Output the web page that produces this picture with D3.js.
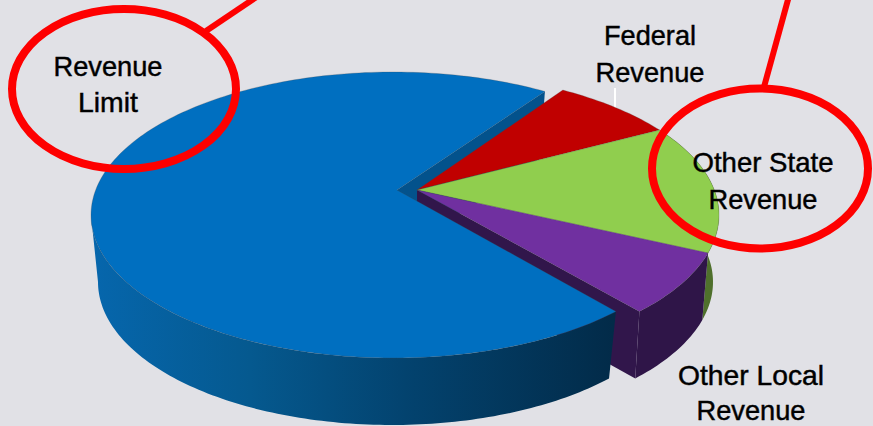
<!DOCTYPE html>
<html><head><meta charset="utf-8"><style>html,body{margin:0;padding:0;background:#e1e1e6;overflow:hidden}svg{display:block}text{font-family:"Liberation Sans",Arial,sans-serif;fill:#000;text-anchor:middle}</style>
<script src="https://cdn.jsdelivr.net/npm/d3@7"></script></head><body><svg id="c" width="873" height="426"></svg>
<script>
const categories = ["Federal Revenue","Other State Revenue","Other Local Revenue","Revenue Limit"];
const values = [6.8,14.4,7.5,71.3];
const topColors = ["#c00000","#90ce4e","#7030a0","#006fc0"];
const wallColors = ["#7a0000","#4f702c","#2f1548","url(#blueWall)"];
const cutColors = ["#7a0000","#4f702c","#31164b","#03528c"];
const labelLines = [["Federal","Revenue"],["Other State","Revenue"],["Other Local","Revenue"],["Revenue","Limit"]];

const svg = d3.select("#c");
const W=873,H=426;
const rad = d3.scaleLinear().domain([0,360]).range([0,2*Math.PI]);
const pie = d3.pie().sort(null).startAngle(rad(29.1)).endAngle(rad(389.1));
const arcs = pie(values);

const grad = svg.append("defs").append("linearGradient").attr("id","blueWall")
  .attr("gradientUnits","userSpaceOnUse").attr("x1",95).attr("x2",612).attr("y1",0).attr("y2",0);
[[0,"#0666ac"],[.3,"#05598f"],[.6,"#03436f"],[1,"#022b49"]].forEach(s=>grad.append("stop").attr("offset",s[0]).attr("stop-color",s[1]));

svg.append("rect").attr("width",W).attr("height",H).attr("fill","#e1e1e6");

// Projection of slice geometry (the big slice is pulled out to the left)
const ry=143, depth=67, cy=215;
function geom(i){
  return i===3 ? {cx:393,rx:302,ax:397,ay:190,bx:392,rxB:294,nudge:rad(1.1)}
               : {cx:415,rx:304,ax:417,ay:190,bx:416,rxB:297,nudge:0};
}
const rim=(g,a)=>[g.cx+g.rx*Math.sin(a), cy-ry*Math.cos(a)];
const low=(g,a)=>[g.bx+g.rxB*Math.sin(a), cy+depth-ry*Math.cos(a)];
const line=d3.line();
const samples=(a,b)=>{const n=Math.ceil(Math.abs(b-a)/0.02);return d3.range(n+1).map(k=>a+(b-a)*k/n);};

// leader tick for Federal Revenue
svg.append("line").attr("x1",615).attr("x2",615).attr("y1",88).attr("y2",108).attr("stroke","#fff").attr("stroke-width",2);

function drawCut(g,a,color){
  svg.append("path").attr("fill",color)
    .attr("d",line([[g.ax,g.ay],rim(g,a),low(g,a),[g.ax,g.ay+depth]])+"Z");
}
function drawWall(a0,a1,i){
  const g=geom(i), s=samples(a0,a1);
  svg.append("path").attr("fill",wallColors[i])
    .attr("d",line(s.map(a=>rim(g,a)).concat(s.slice().reverse().map(a=>low(g,a))))+"Z");
}
function drawTop(d,i){
  const g=geom(i), s=samples(d.startAngle,d.endAngle+g.nudge);
  svg.append("path").attr("fill",topColors[i]).attr("stroke","rgba(70,70,70,.35)").attr("stroke-width",.7)
    .attr("d",line([[g.ax,g.ay]].concat(s.map(a=>rim(g,a))))+"Z");
}
// back to front
drawCut(geom(3),arcs[3].endAngle+geom(3).nudge,cutColors[3]);
drawWall(arcs[1].startAngle,arcs[1].endAngle,1);
drawWall(arcs[2].startAngle,arcs[2].endAngle,2);
drawCut(geom(2),arcs[2].endAngle,cutColors[2]);
drawTop(arcs[0],0);drawTop(arcs[1],1);drawTop(arcs[2],2);
drawWall(arcs[3].startAngle,rad(270),3);
drawTop(arcs[3],3);

// Callout rings
const red="#fe0000";
svg.append("line").attr("x1",206).attr("y1",31).attr("x2",258).attr("y2",-4).attr("stroke",red).attr("stroke-width",6);
svg.append("line").attr("x1",764).attr("y1",87).attr("x2",789).attr("y2",-4).attr("stroke",red).attr("stroke-width",6);
svg.append("ellipse").attr("cx",124).attr("cy",89).attr("rx",112).attr("ry",80).attr("fill","none").attr("stroke",red).attr("stroke-width",8);
svg.append("ellipse").attr("cx",760).attr("cy",168.5).attr("rx",108).attr("ry",80).attr("fill","none").attr("stroke",red).attr("stroke-width",8);

// Labels
const labelPos=[[650,45,82],[763,172,209],[751,385,420],[108,76,112]];
const lineWidths=[[92,109],[141,109],[146,109],[109,60]];
labelLines.forEach((ls,i)=>ls.forEach((t,j)=>{
  svg.append("text").attr("x",labelPos[i][0]).attr("y",labelPos[i][j+1])
    .attr("font-size",28).attr("stroke","#000").attr("stroke-width",.45)
    .attr("textLength",lineWidths[i][j]).attr("lengthAdjust","spacingAndGlyphs").text(t);
}));
</script></body></html>
